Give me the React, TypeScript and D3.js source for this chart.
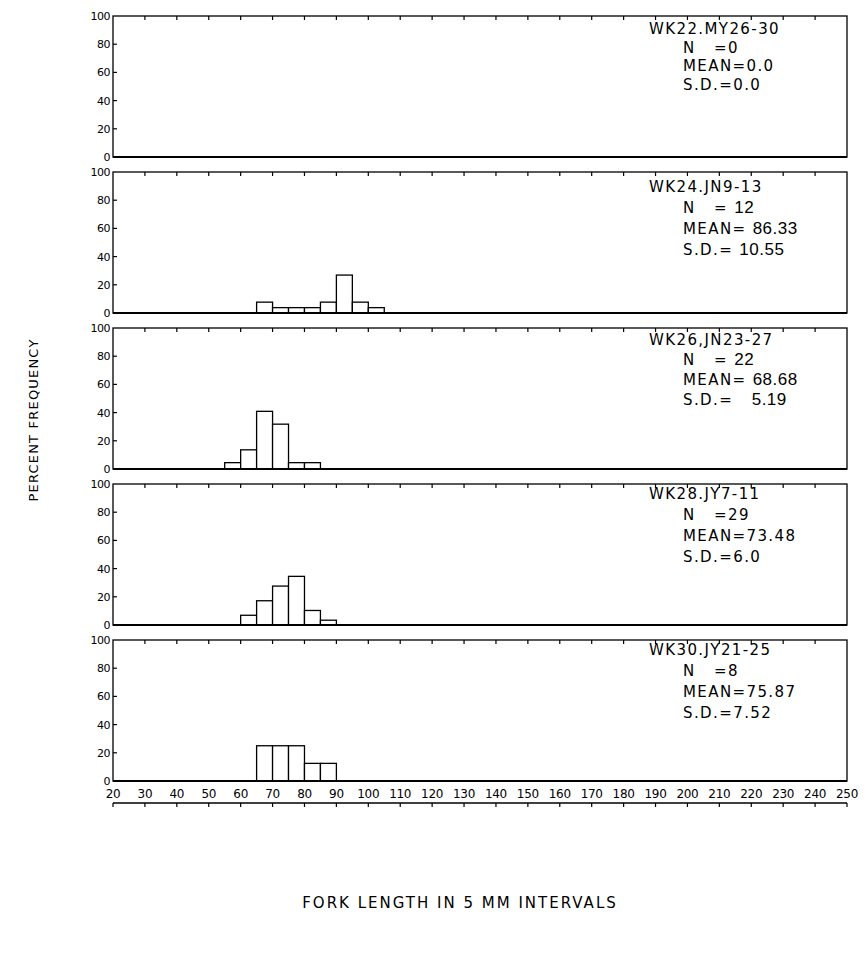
import React from "react";
import * as d3 from "d3";

// ---------- data ----------
const panelTitles = ["WK22.MY26-30", "WK24.JN9-13", "WK26,JN23-27", "WK28.JY7-11", "WK30.JY21-25"];
const nValues = ["0", "12", "22", "29", "8"];
const meanValues = ["0.0", "86.33", "68.68", "73.48", "75.87"];
const sdValues = ["0.0", "10.55", "5.19", "6.0", "7.52"];
const handwritten = [false, true, true, false, false];

const binWidth = 5;
const wk22Start = 20;
const wk22Freq: number[] = [];
const wk24Start = 65;
const wk24Freq = [7.7, 3.8, 3.8, 3.8, 7.7, 26.9, 7.7, 3.8];
const wk26Start = 55;
const wk26Freq = [4.5, 13.6, 40.9, 31.8, 4.5, 4.5];
const wk28Start = 60;
const wk28Freq = [6.9, 17.2, 27.6, 34.5, 10.3, 3.4];
const wk30Start = 65;
const wk30Freq = [25, 25, 25, 12.5, 12.5];

const panelStarts = [wk22Start, wk24Start, wk26Start, wk28Start, wk30Start];
const panelFreqs = [wk22Freq, wk24Freq, wk26Freq, wk28Freq, wk30Freq];

const xTickValues = d3.range(20, 251, 10);
const yTickValues = [0, 20, 40, 60, 80, 100];

const yAxisTitle = "PERCENT FREQUENCY";
const xAxisTitle = "FORK LENGTH IN 5 MM INTERVALS";

// ---------- layout ----------
const W = 868;
const H = 969;
const plotLeft = 113;
const plotRight = 847;
const panelTop0 = 16;
const panelStep = 156;
const panelH = 141;
const textTitleOffset = [18, 20, 17, 15, 15];
const lineGaps = [18.5, 21, 20, 21, 21];
const FONT = "'DejaVu Sans', sans-serif";

export default function App() {
  const x = d3.scaleLinear().domain([20, 250]).range([plotLeft, plotRight]);
  const lastBottom = panelTop0 + 4 * panelStep + panelH;
  const axis2Y = lastBottom + 22;

  return (
    <svg
      width={W}
      height={H}
      viewBox={`0 0 ${W} ${H}`}
      style={{ position: "absolute", left: 0, top: 0, background: "#fff" }}
    >
      <rect x={0} y={0} width={W} height={H} fill="#fff" />
      {panelTitles.map((title, i) => {
        const top = panelTop0 + i * panelStep;
        const bottom = top + panelH;
        const y = d3.scaleLinear().domain([0, 100]).range([bottom, top]);
        const freqs = panelFreqs[i];
        const start = panelStarts[i];
        const tx = 649;
        const ix = 683;
        const ty = top + textTitleOffset[i];
        const lg = lineGaps[i];
        const hw = handwritten[i];
        const hwStyle = hw
          ? { fontFamily: "'Liberation Sans', sans-serif", fontSize: 17, letterSpacing: 0.5 }
          : {};
        return (
          <g key={title}>
            {freqs.map((f, j) => {
              const x0 = x(start + j * binWidth);
              const x1 = x(start + (j + 1) * binWidth);
              return (
                <rect
                  key={j}
                  x={x0}
                  y={y(f)}
                  width={x1 - x0}
                  height={bottom - y(f)}
                  fill="#fff"
                  stroke="#000"
                  strokeWidth={1.3}
                />
              );
            })}
            <rect
              x={plotLeft}
              y={top}
              width={plotRight - plotLeft}
              height={panelH}
              fill="none"
              stroke="#000"
              strokeWidth={1.3}
            />
            <line x1={plotLeft} x2={plotRight} y1={bottom} y2={bottom} stroke="#000" strokeWidth={2} />
            {xTickValues.slice(1, -1).map((v) => (
              <line key={v} x1={x(v)} x2={x(v)} y1={top} y2={top + 4} stroke="#000" strokeWidth={1.2} />
            ))}
            {yTickValues.slice(1, -1).map((v) => (
              <line key={v} x1={plotLeft} x2={plotLeft + 4} y1={y(v)} y2={y(v)} stroke="#000" strokeWidth={1.2} />
            ))}
            {yTickValues.map((v) => (
              <text
                key={v}
                x={plotLeft - 3}
                y={y(v) + 4}
                textAnchor="end"
                fontFamily={FONT}
                fontSize={11}
                letterSpacing={-0.5}
              >
                {v}
              </text>
            ))}
            <g fontFamily={FONT} fontSize={15} letterSpacing={1.4} fill="#000">
              <text x={tx} y={ty}>{title}</text>
              <text x={ix} y={ty + lg} xmlSpace="preserve">
                {hw ? "N   = " : "N   ="}
                <tspan {...hwStyle}>{nValues[i]}</tspan>
              </text>
              <text x={ix} y={ty + 2 * lg} xmlSpace="preserve">
                {hw ? "MEAN= " : "MEAN="}
                <tspan {...hwStyle}>{meanValues[i]}</tspan>
              </text>
              <text x={ix} y={ty + 3 * lg} xmlSpace="preserve">
                {hw ? (i === 2 ? "S.D.=   " : "S.D.= ") : "S.D.="}
                <tspan {...hwStyle}>{sdValues[i]}</tspan>
              </text>
            </g>
          </g>
        );
      })}

      {xTickValues.map((v) => (
        <text
          key={v}
          x={x(v)}
          y={lastBottom + 17}
          textAnchor="middle"
          fontFamily={FONT}
          fontSize={12}
          letterSpacing={-0.3}
        >
          {v}
        </text>
      ))}
      <line x1={plotLeft} x2={plotRight} y1={axis2Y} y2={axis2Y} stroke="#000" strokeWidth={1.3} />
      {xTickValues.map((v) => (
        <line key={v} x1={x(v)} x2={x(v)} y1={axis2Y} y2={axis2Y + 4} stroke="#000" strokeWidth={1.2} />
      ))}

      <text
        transform={`translate(38, 420) rotate(-90)`}
        textAnchor="middle"
        fontFamily={FONT}
        fontSize={13}
        letterSpacing={1.2}
      >
        {yAxisTitle}
      </text>
      <text x={460} y={908} textAnchor="middle" fontFamily={FONT} fontSize={15} letterSpacing={2}>
        {xAxisTitle}
      </text>
    </svg>
  );
}
